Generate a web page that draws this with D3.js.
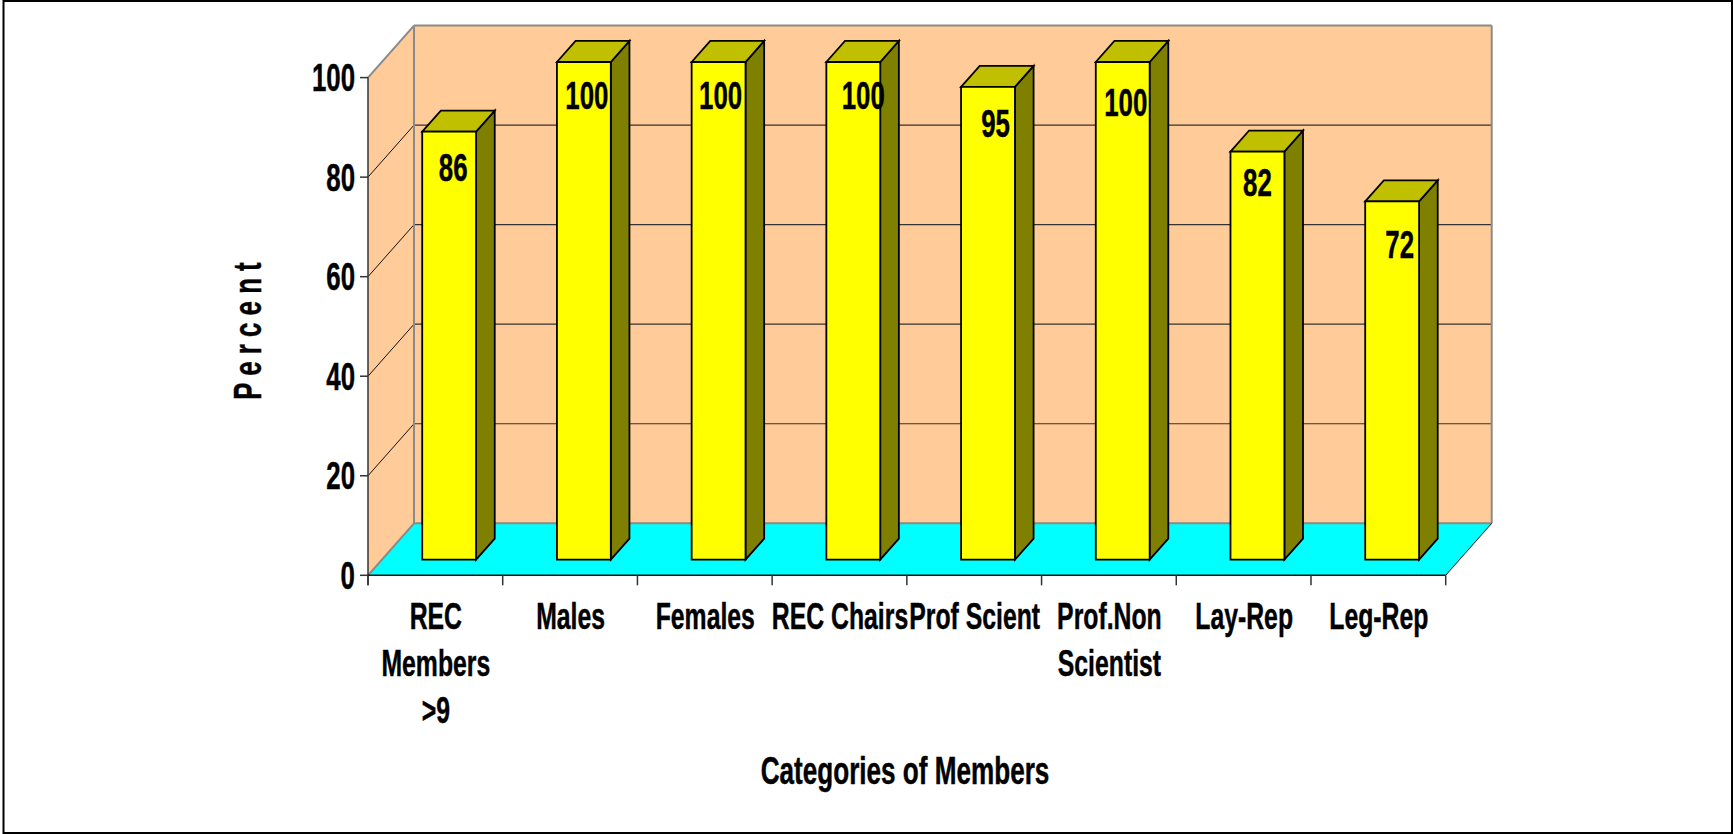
<!DOCTYPE html>
<html><head><meta charset="utf-8">
<script src="https://cdn.jsdelivr.net/npm/d3@7"></script>
<style>html,body{margin:0;padding:0;background:#fff;overflow:hidden}svg{display:block}
text{font-family:"Liberation Sans",Arial,sans-serif;font-weight:bold;fill:#000;stroke:#000;stroke-width:.45px}</style></head>
<body><svg id="c" width="1733" height="834"></svg>
<script>
const categories=[["REC","Members",">9"],["Males"],["Females"],["REC Chairs"],["Prof Scient"],["Prof.Non","Scientist"],["Lay-Rep"],["Leg-Rep"]];
const values=[86,100,100,100,95,100,82,72];
const yTicks=[0,20,40,60,80,100];
const yTitle="P e r c e n t";
const xTitle="Categories of Members";
// hand-placed label offsets of the original chart (dx, baseline dy from bar top)
const labelDx=[4,3,2,10,7.5,3,0,7.5];
const labelDy=[49,46.5,47,46.5,50.5,54,44.5,56.5];

const svg=d3.select("#c");
const W=1733,H=834,depthX=46,depthY=52;
const x=d3.scaleBand().domain(d3.range(categories.length)).range([368,1445.7]);
const y=d3.scaleLinear().domain([0,100]).range([575.3,77.6]);
const P=(px,v,d)=>[px+depthX*d,y(v)-depthY*d];
const poly=(pts,fill,stroke,sw)=>svg.append("polygon").attr("points",pts.map(p=>p.join(",")).join(" "))
  .attr("fill",fill).attr("stroke",stroke||"none").attr("stroke-width",sw||0).attr("stroke-linejoin","miter");
const line=(a,b,c,w)=>svg.append("line").attr("x1",a[0]).attr("y1",a[1]).attr("x2",b[0]).attr("y2",b[1]).attr("stroke",c).attr("stroke-width",w);
const label=(t,tx,ty,fs,sx,anchor)=>svg.append("text").attr("transform",`translate(${tx},${ty}) scale(${sx},1)`).attr("text-anchor",anchor||"middle").attr("font-size",fs).text(t);

svg.append("rect").attr("x",3.5).attr("y",1).attr("width",W-4.5).attr("height",H-2).attr("fill","#fff").attr("stroke","#000").attr("stroke-width",2);

const x0=x.range()[0],x1=x.range()[1];
// walls and floor
poly([P(x0,0,1),P(x1,0,1),P(x1,100,1),P(x0,100,1)],"#FFCC99");
poly([P(x0,0,0),P(x0,0,1),P(x0,100,1),P(x0,100,0)],"#FFCC99");
poly([P(x0,0,0),P(x1,0,0),P(x1,0,1),P(x0,0,1)],"#00FFFF");
// gridlines
yTicks.filter(t=>t>0&&t<100).forEach(t=>{
  line(P(x0,t,0),P(x0,t,1),"#111",1);
  line(P(x0,t,1),P(x1,t,1),"#333",1.2);
});
// wall edges
const g="#8a8a8a";
line(P(x0,100,0),P(x0,100,1),g,2);
line(P(x0,100,1),P(x1,100,1),g,2);
line(P(x1,100,1),P(x1,0,1),g,2);
line(P(x0,100,1),P(x0,0,1),g,2);
line(P(x0,0,1),P(x1,0,1),g,2);
line(P(x0,0,0),P(x0,0,1),g,2);
line(P(x1,0,0),P(x1,0,1),"#111",1);
// axes
line(P(x0,100,0),[x0,y(0)+10],"#333",1.5);
line(P(x0,0,0),P(x1,0,0),"#111",1.5);
yTicks.forEach(t=>{
  line([x0-8,y(t)],[x0,y(t)],"#333",1.5);
  label(t,355,y(t)+13.5,38,.68,"end");
});
d3.range(categories.length+1).forEach(i=>{
  const px=i<categories.length?x(i):x1;
  line([px,y(0)],[px,y(0)+10],"#333",1.5);
});
// bars
const bw=x.bandwidth()*.4, gap=.3, deep=.405;
values.forEach((v,i)=>{
  const c=x(i)+x.bandwidth()/2;
  const l=c-bw/2,r=c+bw/2;
  const A=P(l,v,gap),B=P(r,v,gap),C=P(r,0,gap),D=P(l,0,gap);
  const E=P(r,0,gap+deep),F=P(r,v,gap+deep),G=P(l,v,gap+deep);
  poly([B,C,E,F],"#808000","#000",1.8);
  poly([A,B,F,G],"#C0C000","#000",1.8);
  poly([A,B,C,D],"#FFFF00","#000",1.8);
});
values.forEach((v,i)=>{
  const c=x(i)+x.bandwidth()/2;
  const f=P(c,v,gap);
  label(v,f[0]+labelDx[i],f[1]+labelDy[i],38,.68);
});
// category labels
categories.forEach((ls,i)=>{
  const c=x(i)+x.bandwidth()/2;
  ls.forEach((t,j)=>label(t,c+0.5,629.3+j*47,37,.67));
});
label(xTitle,905,784,38,.687);
svg.append("text").attr("transform",`translate(261,331) rotate(-90) scale(.68,1)`).attr("text-anchor","middle").attr("font-size",38).text(yTitle);
</script></body></html>
